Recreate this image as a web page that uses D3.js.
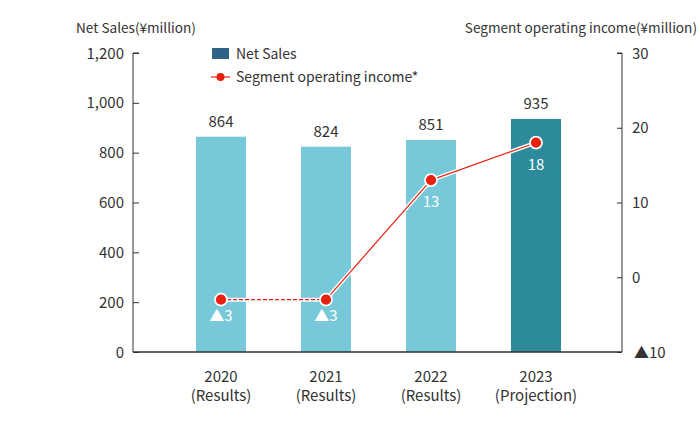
<!DOCTYPE html>
<html><head><meta charset="utf-8">
<script src="https://cdn.jsdelivr.net/npm/d3@7"></script>
<style>body{margin:0;background:#fff}svg{display:block}text{font-family:"Noto Sans CJK JP","Noto Sans",sans-serif;fill:#333}</style>
</head><body><svg id="c" width="700" height="430"></svg>
<script>
const years = ["2020","2021","2022","2023"];
const periods = ["(Results)","(Results)","(Results)","(Projection)"];
const netSales = [864, 824, 851, 935];
const segIncome = [-3, -3, 13, 18];
const leftTicks = [0, 200, 400, 600, 800, 1000, 1200];
const rightTicks = [-10, 0, 10, 20, 30];

const svg = d3.select("#c");
const x = d3.scaleBand().domain(years).range([168.5, 588.5]).paddingInner(0.5238).paddingOuter(0.2619);
const yL = d3.scaleLinear().domain([0, 1200]).range([352, 53]);
const yR = d3.scaleLinear().domain([-10, 30]).range([352, 53]);
const fmtR = v => v < 0 ? "▲" + Math.abs(v) : String(v);

// bars
svg.selectAll("rect.bar").data(years).join("rect")
  .attr("x", d => x(d)).attr("width", x.bandwidth())
  .attr("y", (d,i) => yL(netSales[i])).attr("height", (d,i) => yL(0) - yL(netSales[i]))
  .attr("fill", (d,i) => i === 3 ? "#2C8A9B" : "#77C8D8");
svg.selectAll("text.bv").data(years).join("text")
  .attr("x", d => x(d) + x.bandwidth()/2).attr("y", (d,i) => yL(netSales[i]) - 10)
  .attr("text-anchor", "middle").attr("font-size", 15).text((d,i) => netSales[i]);

// left axis
const gL = svg.append("g").attr("transform", "translate(133,0)")
  .call(d3.axisRight(yL).tickValues(leftTicks).tickSize(6).tickFormat(""));
gL.select(".domain").attr("stroke", "#333").attr("d", "M6,53H0V352");
gL.selectAll("line").attr("stroke", "#333");
svg.selectAll("text.lt").data(leftTicks).join("text")
  .attr("x", 124).attr("y", d => yL(d) + 5.5).attr("text-anchor", "end")
  .attr("font-size", 15).text(d => d3.format(",")(d));

// right axis
const gR = svg.append("g").attr("transform", "translate(622,0)")
  .call(d3.axisLeft(yR).tickValues(rightTicks).tickSize(5).tickFormat(""));
gR.select(".domain").attr("stroke", "#333").attr("d", "M-5,53H0V352");
gR.selectAll("line").attr("stroke", "#333");
svg.selectAll("text.rt").data(rightTicks).join("text")
  .attr("x", d => d < 0 ? 634 : 632).attr("y", d => yR(d) + 5.5)
  .attr("font-size", 15).text(d => fmtR(d));

// x axis baseline
svg.append("line").attr("x1", 133).attr("x2", 622).attr("y1", 352).attr("y2", 352)
  .attr("stroke", "#333").attr("stroke-width", 1.5);
svg.selectAll("text.cat").data(years).join("text")
  .attr("x", d => x(d) + x.bandwidth()/2).attr("text-anchor", "middle").attr("font-size", 15)
  .each(function(d,i){
    d3.select(this).append("tspan").attr("x", x(d) + x.bandwidth()/2).attr("y", 382).text(d);
    d3.select(this).append("tspan").attr("x", x(d) + x.bandwidth()/2).attr("y", 401).text(periods[i]);
  });

// axis titles
svg.append("text").attr("x", 76).attr("y", 33).attr("font-size", 13.6).text("Net Sales(¥million)");
svg.append("text").attr("x", 697).attr("y", 33).attr("text-anchor", "end").attr("font-size", 13.6).text("Segment operating income(¥million)");

// line
const pts = years.map((d,i) => [x(d) + x.bandwidth()/2, yR(segIncome[i])]);
const segs = [[pts[0], pts[1], true], [pts[1], pts[2], false], [pts[2], pts[3], false]];
segs.forEach(s => {
  svg.append("line").attr("x1", s[0][0]).attr("y1", s[0][1]).attr("x2", s[1][0]).attr("y2", s[1][1])
    .attr("stroke", "#fff").attr("stroke-width", 4);
});
segs.forEach(s => {
  svg.append("line").attr("x1", s[0][0]).attr("y1", s[0][1]).attr("x2", s[1][0]).attr("y2", s[1][1])
    .attr("stroke", "#E8200F").attr("stroke-width", 1.2).attr("stroke-dasharray", s[2] ? "4,2" : null);
});
svg.selectAll("circle.pt").data(pts).join("circle")
  .attr("cx", d => d[0]).attr("cy", d => d[1]).attr("r", 6)
  .attr("fill", "#E8200F").attr("stroke", "#fff").attr("stroke-width", 1.8);
svg.selectAll("text.pv").data(pts).join("text")
  .attr("x", d => d[0]).attr("y", (d,i) => d[1] + (segIncome[i] < 0 ? 21 : 27))
  .attr("text-anchor", "middle").attr("font-size", 15).style("fill", "#fff")
  .text((d,i) => fmtR(segIncome[i]));

// legend
svg.append("rect").attr("x", 212).attr("y", 48).attr("width", 17).attr("height", 11).attr("fill", "#2E6286");
svg.append("text").attr("x", 236).attr("y", 59).attr("font-size", 14).text("Net Sales");
svg.append("line").attr("x1", 211).attr("x2", 230).attr("y1", 77).attr("y2", 77).attr("stroke", "#E8200F").attr("stroke-width", 1.2);
svg.append("circle").attr("cx", 220.5).attr("cy", 77).attr("r", 4).attr("fill", "#E8200F");
svg.append("text").attr("x", 236).attr("y", 82).attr("font-size", 14).text("Segment operating income*");
</script></body></html>
